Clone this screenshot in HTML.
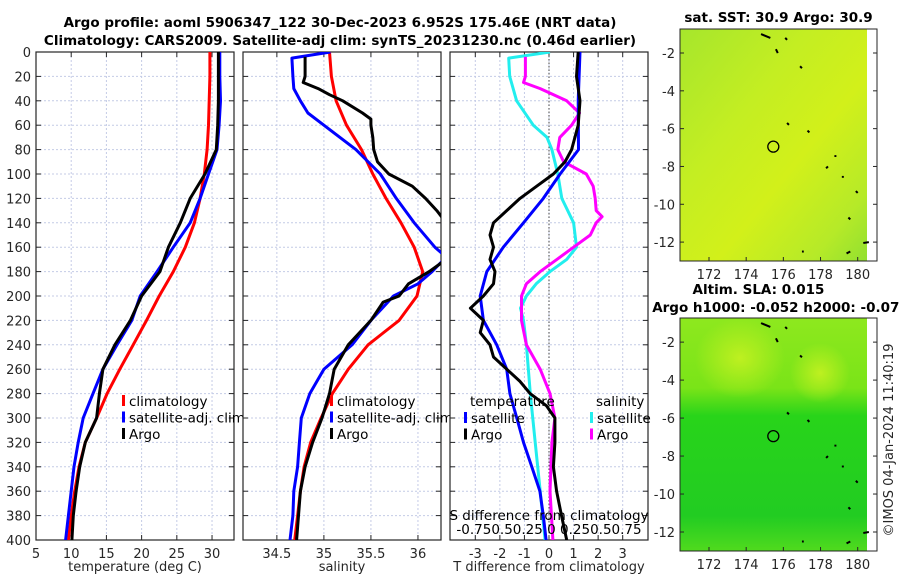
<!DOCTYPE html>
<html><head><meta charset="utf-8">
<style>
html,body{margin:0;padding:0;background:#fff;}
svg{display:block;font-family:"DejaVu Sans","Liberation Sans",sans-serif;}
.tk{font-size:13px;fill:#262626;}
.tt{font-size:13.5px;font-weight:bold;fill:#000;}
.lg{font-size:13.5px;fill:#000;}
</style></head>
<body>
<svg id="fig" width="900" height="580" viewBox="0 0 900 580">
<defs>
<clipPath id="c1"><rect x="36" y="52" width="198" height="488"/></clipPath>
<clipPath id="c2"><rect x="243" y="52" width="198" height="488"/></clipPath>
<clipPath id="c3"><rect x="450" y="52" width="198" height="488"/></clipPath>
<linearGradient id="sstg" x1="0" y1="0" x2="1" y2="1">
<stop offset="0" stop-color="#a6e62c"/><stop offset="0.35" stop-color="#c4ee22"/><stop offset="0.6" stop-color="#d2f01a"/><stop offset="0.85" stop-color="#b6ea28"/><stop offset="1" stop-color="#92e030"/>
</linearGradient>
<linearGradient id="slag" x1="0" y1="0" x2="0" y2="1">
<stop offset="0" stop-color="#8ee81e"/><stop offset="0.3" stop-color="#7ae418"/><stop offset="0.42" stop-color="#28d41a"/><stop offset="0.85" stop-color="#22cc22"/><stop offset="1" stop-color="#50da1e"/>
</linearGradient>
<radialGradient id="slab" cx="0.5" cy="0.5" r="0.5"><stop offset="0" stop-color="#bef020"/><stop offset="1" stop-color="#bef020" stop-opacity="0"/></radialGradient>
</defs>
<text class="tt" x="340" y="27" text-anchor="middle">Argo profile: aoml 5906347_122 30-Dec-2023 6.952S 175.46E (NRT data)</text>
<text class="tt" x="340" y="45" text-anchor="middle">Climatology: CARS2009. Satellite-adj clim: synTS_20231230.nc (0.46d earlier)</text>
<g id="p1"></g>
<g id="p2"></g>
<g id="p3"></g>
<g id="m1"></g>
<g id="m2"></g>
<text class="tk" transform="translate(893,440) rotate(-90)" text-anchor="middle">©IMOS 04-Jan-2024 11:40:19</text>
</svg>
<script>
const depths = [0,20,40,60,80,100,120,140,160,180,200,220,240,260,280,300,320,340,360,380,400];
const tempClim = [29.7,29.7,29.6,29.5,29.3,28.9,28.3,27.5,26.2,24.5,22.5,20.7,18.8,16.9,15.1,13.6,12.0,11.1,10.5,10.0,9.6];
const tempSat = [31.1,31.1,31.2,31.0,30.7,29.5,28.3,26.9,24.5,22.2,19.8,18.6,16.5,14.5,13.1,11.7,11.0,10.4,10.0,9.6,9.2];
const tempArgo = [30.9,30.9,30.9,30.8,30.6,29.0,26.9,25.5,23.8,22.6,20.0,18.4,16.2,14.5,14.0,13.6,12.0,11.2,10.7,10.3,10.1];
const salClim = [35.06,35.08,35.13,35.24,35.40,35.52,35.66,35.82,35.96,36.05,35.99,35.80,35.47,35.26,35.09,34.97,34.86,34.79,34.75,34.72,34.69];
const salSatDepth = [0,5,20,30,40,50,60,80,100,120,140,160,168,180,190,200,220,240,260,280,300,320,340,360,380,400];
const salSat = [35.07,34.66,34.67,34.68,34.75,34.83,35.0,35.34,35.6,35.77,35.96,36.18,36.3,36.15,36.0,35.74,35.5,35.3,35.0,34.85,34.76,34.74,34.72,34.68,34.67,34.64];
const salArgoDepth = [4,20,25,30,35,40,50,55,60,70,80,90,100,110,120,130,150,170,180,190,200,205,220,240,260,280,300,320,340,360,380,400];
const salArgo = [34.8,34.8,34.78,34.94,35.06,35.2,35.41,35.5,35.5,35.52,35.53,35.57,35.69,35.94,36.08,36.2,36.4,36.3,36.12,35.9,35.8,35.63,35.5,35.26,35.11,35.06,34.98,34.88,34.8,34.75,34.73,34.71];
const dTSatDepth = [0,40,80,100,120,140,160,180,200,220,240,260,280,300,320,340,360,380,400];
const dTSat = [1.26,1.19,1.2,0.45,-0.23,-1.04,-1.86,-2.53,-2.8,-2.67,-2.13,-1.72,-1.59,-1.31,-1.04,-0.70,-0.37,-0.23,-0.12];
const dTArgoDepth = [0,20,40,60,80,90,100,110,120,130,140,150,160,170,180,190,200,210,220,230,240,250,260,270,280,290,300,320,340,360,380,400];
const dTArgo = [1.19,1.12,1.26,1.19,0.92,0.65,0.18,-0.5,-1.18,-1.72,-2.26,-2.4,-2.26,-2.4,-2.2,-2.26,-2.67,-3.2,-2.67,-2.8,-2.4,-2.26,-1.72,-1.18,-0.77,-0.1,0.24,0.24,0.18,0.31,0.51,0.72];
const dSSatDepth = [0,5,20,40,60,70,80,100,120,140,160,170,180,190,200,210,220,240,280,320,360,400];
const dSSat = [0.01,-0.41,-0.40,-0.33,-0.16,-0.02,0.03,0.09,0.13,0.25,0.28,0.18,0.01,-0.13,-0.23,-0.29,-0.26,-0.23,-0.19,-0.14,-0.09,-0.04];
const dSArgoDepth = [4,20,25,30,40,50,60,70,80,90,100,110,120,130,135,140,150,160,170,180,190,200,220,240,260,280,300,320,360,400];
const dSArgo = [-0.24,-0.24,-0.26,-0.09,0.18,0.31,0.23,0.11,0.09,0.15,0.38,0.45,0.47,0.48,0.54,0.48,0.42,0.25,0.08,-0.09,-0.23,-0.28,-0.28,-0.23,-0.09,0.01,0.06,0.03,0.01,0.04];
const depthTicks = [0,20,40,60,80,100,120,140,160,180,200,220,240,260,280,300,320,340,360,380,400];
const tempTicks = [5,10,15,20,25,30];
const salTicks = [34.5,35,35.5,36];
const dTTicks = [-3,-2,-1,0,1,2,3];
const dSTickLabel = "-0.750.50.25 0 0.250.50.75";
const lonTicks = [172,174,176,178,180];
const latTicks = [-2,-4,-6,-8,-10,-12];

const NS="http://www.w3.org/2000/svg";
function mk(parent,tag,attrs){const e=document.createElementNS(NS,tag);for(const k in attrs)e.setAttribute(k,attrs[k]);parent.appendChild(e);return e;}
const top0=52, bot0=540;
const yD = d => top0 + d*(bot0-top0)/400;

function panel(g, x0, xmin, xmax, ticks, fmt, xlabel, clip, showY){
  const w=198;
  const xs = v => x0 + (v-xmin)/(xmax-xmin)*w;
  const bg = mk(g,'rect',{x:x0,y:top0,width:w,height:bot0-top0,fill:'#fff'});
  
  
  depthTicks.forEach(d=>{
    const l=mk(g,'line',{x1:x0,x2:x0+w,y1:yD(d),y2:yD(d),stroke:'#c4cbe6','stroke-width':1,'stroke-dasharray':'2,2'});
    
    
    mk(g,'line',{x1:x0,x2:x0+5,y1:yD(d),y2:yD(d),stroke:'#262626'});
    mk(g,'line',{x1:x0+w-5,x2:x0+w,y1:yD(d),y2:yD(d),stroke:'#262626'});
    if(showY){const t=mk(g,'text',{x:x0-5,y:yD(d)+5,'text-anchor':'end',class:'tk'});t.textContent=d;
      
      }
  });
  ticks.forEach(v=>{
    const x=xs(v);
    const l=mk(g,'line',{x1:x,x2:x,y1:top0,y2:bot0,stroke:'#c4cbe6','stroke-width':1,'stroke-dasharray':'2,2'});
    
    
    mk(g,'line',{x1:x,x2:x,y1:bot0-5,y2:bot0,stroke:'#262626'});
    mk(g,'line',{x1:x,x2:x,y1:top0,y2:top0+5,stroke:'#262626'});
    const t=mk(g,'text',{x:x,y:bot0+18,'text-anchor':'middle',class:'tk'});t.textContent=fmt(v);
    
    
  });
  const f=mk(g,'rect',{x:x0,y:top0,width:w,height:bot0-top0,fill:'none',stroke:'#262626','stroke-width':1.2});
  
  
  const xl=mk(g,'text',{x:x0+w/2,y:bot0+31,'text-anchor':'middle',class:'tk'});xl.textContent=xlabel;
  
  
  return xs;
}
function line(g,xs,vals,ds,color,clip,name){
  const pts=vals.map((v,i)=>xs(v).toFixed(1)+','+yD(ds[i]).toFixed(1)).join(' ');
  const p=mk(g,'polyline',{points:pts,fill:'none',stroke:color,'stroke-width':3,'stroke-linejoin':'round','clip-path':'url(#'+clip+')'});
  
  
}
function legend(g,x,y,items){
  items.forEach((it,i)=>{
    mk(g,'rect',{x:x,y:y+i*16.5-11,width:3,height:11,fill:it[1]});
    const t=mk(g,'text',{x:x+7,y:y+i*16.5,class:'lg'});t.textContent=it[0];
    
    
  });
}
// Panel 1
const g1=document.getElementById('p1');
const xs1=panel(g1,36,5,33.12,tempTicks,v=>v,'temperature (deg C)','c1',true);
line(g1,xs1,tempClim,depths,'#ff0000','c1','temp-climatology-line');
line(g1,xs1,tempSat,depths,'#0000ff','c1','temp-satellite-line');
line(g1,xs1,tempArgo,depths,'#000000','c1','temp-argo-line');
legend(g1,122,406,[['climatology','#ff0000'],['satellite-adj. clim','#0000ff'],['Argo','#000000']]);
// Panel 2
const g2=document.getElementById('p2');
const xs2=panel(g2,243,34.14,36.245,salTicks,v=>v,'salinity','c2',false);
line(g2,xs2,salClim,depths,'#ff0000','c2','sal-climatology-line');
line(g2,xs2,salSat,salSatDepth,'#0000ff','c2','sal-satellite-line');
line(g2,xs2,salArgo,salArgoDepth,'#000000','c2','sal-argo-line');
legend(g2,330,406,[['climatology','#ff0000'],['satellite-adj. clim','#0000ff'],['Argo','#000000']]);
// Panel 3
const g3=document.getElementById('p3');
const xs3=panel(g3,450,-4.03,4.03,dTTicks,v=>v,'T difference from climatology','c3',false);
const xsS=v=>xs3(v*4);
const zl=mk(g3,'line',{x1:xs3(0),x2:xs3(0),y1:top0,y2:bot0,stroke:'#444','stroke-dasharray':'1.5,2'});


line(g3,xsS,dSSat,dSSatDepth,'#22eeee','c3','sal-diff-satellite-line');
line(g3,xsS,dSArgo,dSArgoDepth,'#ff00ff','c3','sal-diff-argo-line');
line(g3,xs3,dTSat,dTSatDepth,'#0000ff','c3','temp-diff-satellite-line');
line(g3,xs3,dTArgo,dTArgoDepth,'#000000','c3','temp-diff-argo-line');
const lt=mk(g3,'text',{x:470,y:406,class:'lg'});lt.textContent='temperature';


const ls=mk(g3,'text',{x:596,y:406,class:'lg'});ls.textContent='salinity';


legend(g3,464,423,[['satellite','#0000ff'],['Argo','#000000']]);
legend(g3,590,423,[['satellite','#22eeee'],['Argo','#ff00ff']]);
const st=mk(g3,'text',{x:549,y:520,'text-anchor':'middle',class:'lg'});st.textContent='S difference from climatology';


const sl=mk(g3,'text',{x:549,y:534,'text-anchor':'middle',class:'lg'});sl.textContent=dSTickLabel;



// Maps
function map(id,y0,y1,fill,title1,title2,extra){
  const g=document.getElementById(id);
  const x0=680,xi=867,x1=877;
  const lon=v=>x0+(v-170.44)/(180.5-170.44)*(xi-x0);
  const lat=v=>y0+(v-(-0.73))/(-13.0-(-0.73))*(y1-y0);
  const r=mk(g,'rect',{x:x0,y:y0,width:xi-x0,height:y1-y0,fill:fill});
  
  
  if(extra) extra(g,x0,y0,xi,y1);
  [[174.8,-1.0,175.3,-1.2],[175.6,-1.8,175.7,-2.0],[176.1,-1.2,176.2,-1.3],[176.9,-2.7,177.0,-2.8],[176.2,-5.7,176.3,-5.8],[177.3,-6.1,177.4,-6.2],[178.8,-7.4,178.8,-7.5],[178.4,-8.0,178.3,-8.1],[179.2,-8.5,179.2,-8.6],[179.9,-9.3,180.0,-9.4],[179.5,-10.7,179.6,-10.8],[177.0,-12.5,177.1,-12.5],[179.6,-12.5,179.4,-12.6]].forEach(s=>{
    mk(g,'line',{x1:lon(s[0]),y1:lat(s[1]),x2:lon(s[2]),y2:lat(s[3]),stroke:'#000','stroke-width':2});
  });
  mk(g,'line',{x1:lon(180.3),y1:lat(-12.05),x2:lon(180.6),y2:lat(-12.0),stroke:'#000','stroke-width':2});
  const c=mk(g,'circle',{cx:lon(175.46),cy:lat(-6.952),r:5.5,fill:'none',stroke:'#000','stroke-width':1.3});
  
  
  const f=mk(g,'rect',{x:x0,y:y0,width:x1-x0,height:y1-y0,fill:'none',stroke:'#262626'});
  
  
  lonTicks.forEach(v=>{
    mk(g,'line',{x1:lon(v),x2:lon(v),y1:y1-4,y2:y1,stroke:'#262626'});
    const t=mk(g,'text',{x:lon(v),y:y1+18,'text-anchor':'middle',class:'tk'});t.textContent=v;
    
    
  });
  latTicks.forEach(v=>{
    mk(g,'line',{x1:x1-4,x2:x1,y1:lat(v),y2:lat(v),stroke:'#262626'});
    mk(g,'line',{x1:x0,x2:x0+4,y1:lat(v),y2:lat(v),stroke:'#262626'});
    const t=mk(g,'text',{x:x0-5,y:lat(v)+5,'text-anchor':'end',class:'tk'});t.textContent=v;
    
    
  });
  if(title2){
    const t1=mk(g,'text',{x:x0+(x1-x0)/2-20,y:y0-24,'text-anchor':'middle',class:'tt'});t1.textContent=title1;
    
    
    const t2=mk(g,'text',{x:x0+(x1-x0)/2+2,y:y0-6,'text-anchor':'middle',class:'tt'});t2.textContent=title2;
    
    
  } else {
    const t1=mk(g,'text',{x:x0+(x1-x0)/2,y:y0-7,'text-anchor':'middle',class:'tt'});t1.textContent=title1;
    
    
  }
}
map('m1',29,261,'url(#sstg)','sat. SST: 30.9 Argo: 30.9','',null);
map('m2',318,551,'url(#slag)','Altim. SLA: 0.015','Argo h1000: -0.052 h2000: -0.071',(g,x0,y0,xi,y1)=>{
  mk(g,'ellipse',{cx:x0+60,cy:y0+40,rx:45,ry:40,fill:'url(#slab)'});
  mk(g,'ellipse',{cx:x0+140,cy:y0+55,rx:30,ry:30,fill:'url(#slab)'});
});
</script>
</body></html>
